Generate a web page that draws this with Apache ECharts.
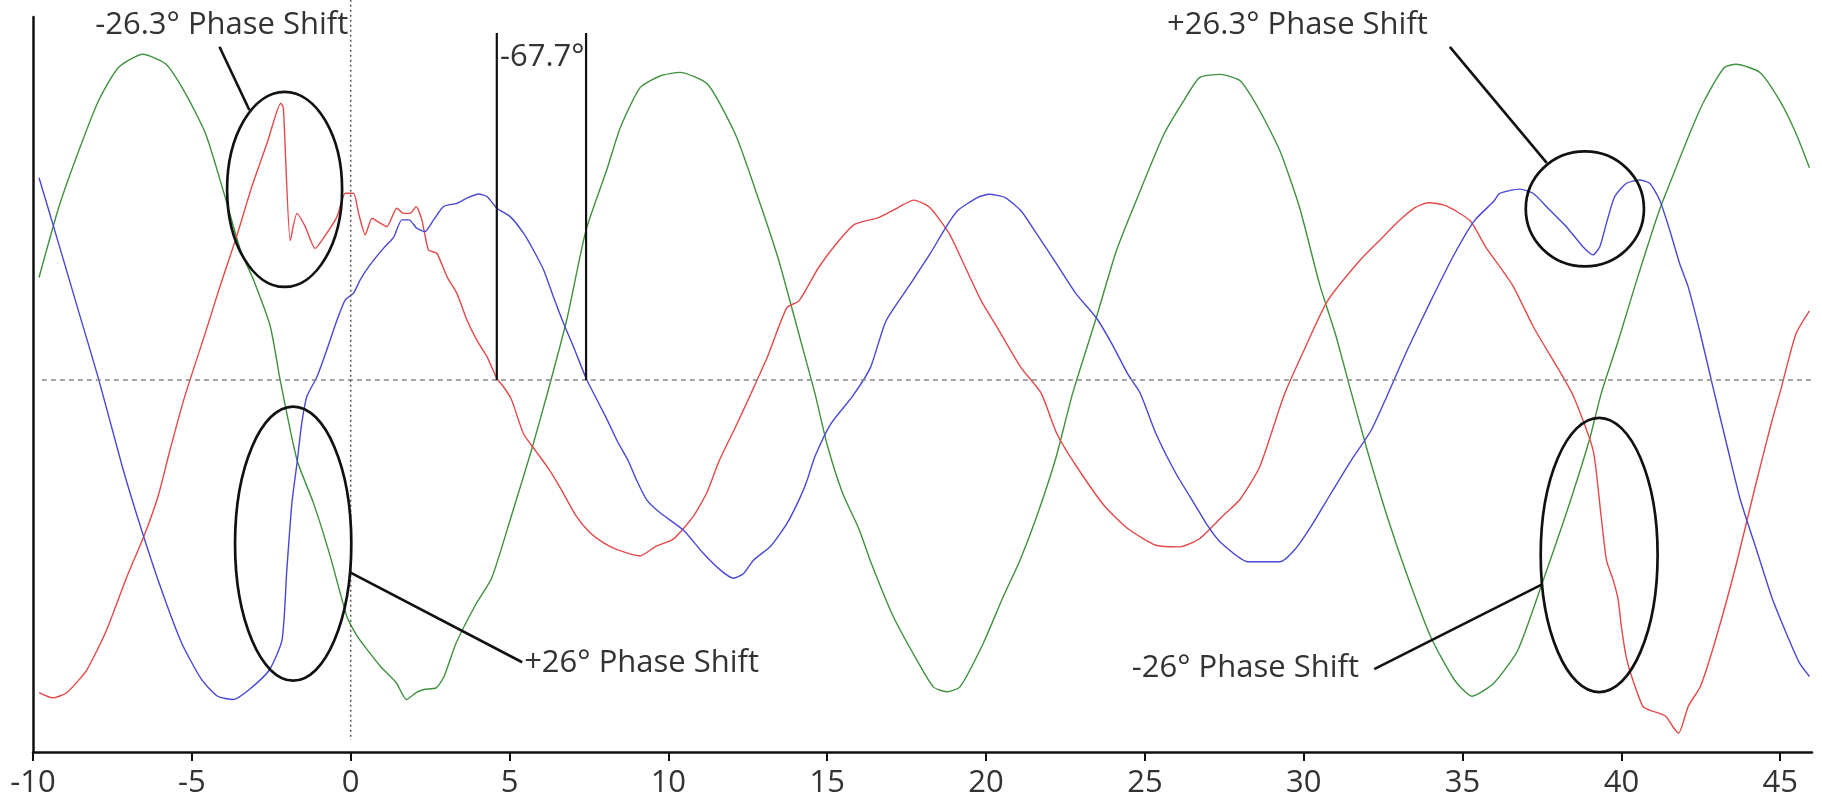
<!DOCTYPE html>
<html>
<head>
<meta charset="utf-8">
<script src="https://cdn.jsdelivr.net/npm/echarts@6/dist/echarts.min.js"></script>
<style>
html,body{margin:0;padding:0;background:#fff;}
#c{width:1822px;height:802px;}
</style>
</head>
<body>
<div id="c"></div>
<script>
// ---- tick labels ----
const xTicks = [-10, -5, 0, 5, 10, 15, 20, 25, 30, 35, 40, 45];

// ---- green waveform ----
const greenX = [-9.81,-9.19,-8.56,-7.94,-7.31,-6.54,-5.81,-5.19,-4.56,-3.94,-3.47,-3.06,-2.53,-2.22,-1.69,-1.17,-0.64,-0.12,0.2,0.5,0.94,1.44,1.75,2.06,2.31,2.69,2.94,3.31,3.94,4.44,5.06,5.69,6.22,6.8,7.41,8.06,8.49,9.11,9.74,10.36,11.23,12.11,12.86,13.48,14.11,14.61,15.0,15.48,16.0,16.35,17.08,17.82,18.34,18.76,19.18,19.91,20.54,21.07,21.6,22.2,22.73,23.47,24.1,24.72,25.6,26.22,26.72,27.37,28.0,28.62,29.25,29.87,30.5,31.0,31.5,32.0,32.62,33.25,34.0,34.74,35.3,35.99,36.74,37.49,38.24,38.99,39.37,39.9,40.42,41.2,41.7,42.2,42.6,43.24,43.61,44.36,44.99,45.5,45.92];
const greenY = [31.6,53.2,70.7,86.1,96.4,100.5,97.4,88.2,75.8,56,40.1,30.9,16.5,0,-24.7,-38,-54.5,-73,-79,-83,-88.4,-93.5,-98.6,-96.5,-95.5,-95,-91.5,-81.4,-69.2,-61.1,-41.9,-21.7,-3.1,18.5,46.3,64.8,77.9,90.2,93.8,94.9,91.3,75.8,55.2,36.7,14.1,-4,-20,-34.8,-46,-55.6,-73,-86.4,-94.7,-96.2,-94.7,-81.3,-66.9,-55.6,-42,-24,-4,19.2,39.8,55.2,75.8,86.1,93.3,94.3,92.3,83,70.7,53.2,29.5,14.1,-4,-21.7,-41.9,-60.1,-79.3,-92.5,-97.6,-93.5,-83.4,-63.2,-41.9,-18.6,-4,12,28.8,52.5,65,77.2,86,96.4,97.4,94.9,86.1,76,65.5];

// ---- red waveform ----
const redX = [-9.81,-9.38,-8.94,-8.31,-7.69,-7.06,-6.5,-6.06,-5.69,-5.22,-4.56,-4.11,-3.6,-3.1,-2.6,-2.2,-2.12,-1.9,-1.69,-1.43,-1.12,-0.75,-0.43,-0.17,0.09,0.25,0.46,0.67,0.93,1.14,1.45,1.66,1.87,2.06,2.24,2.45,2.71,3.03,3.34,3.66,3.97,4.29,4.6,4.81,5.06,5.44,5.81,6.2,6.58,7.1,7.53,7.95,8.37,9.1,9.63,10.16,10.79,11.21,11.61,12.11,12.61,13.11,13.73,14.11,14.73,15.36,15.86,16.61,17.23,17.73,18.23,18.85,19.35,19.85,20.35,21.1,21.73,22.23,22.85,23.73,24.48,25.35,26.1,26.72,27.45,28.0,28.62,29.37,30.0,30.75,31.75,32.37,33.0,33.5,33.93,34.49,35.24,35.74,36.17,36.6,37.24,37.99,38.49,39.11,39.36,39.53,39.74,39.9,40.0,40.15,40.36,40.68,40.89,41.2,41.41,41.62,41.8,42.11,42.49,42.99,43.61,44.24,44.74,44.99,45.49,45.92];
const redY = [-96.5,-98.1,-96.5,-89.5,-77.3,-61.1,-48,-35.8,-21.7,-5,15,29,44,60,74,85.4,84,43,51.4,47.3,40.6,45.3,50.4,57.6,57.6,51.4,44.8,49.9,48.4,47.3,53,51.4,51.4,53.5,49.4,40.1,39.1,31.9,26.8,18.5,12.3,7.2,0.5,-2.1,-6,-16.6,-21.7,-27,-33,-42,-47.1,-50.2,-52.3,-54.3,-51.2,-49.1,-42,-34.8,-24.7,-14.6,-4,6.9,22.3,24.4,34.7,42.9,48,50.1,53.2,55.5,53.2,45,34.7,24.4,16.2,3.8,-4,-16.6,-26.7,-38.9,-46,-51,-51.5,-49,-42,-36.8,-26.7,-5,9,24.4,36.7,42.9,49.1,53.2,54.7,53.7,49.1,40.8,35,28.8,16.2,3.8,-5,-21.7,-41.9,-55.6,-61.7,-67.9,-76.1,-85.4,-92.6,-100.8,-101.9,-102.9,-103.9,-107,-109,-100.6,-94.5,-79.3,-57.1,-31.8,-12.6,-4,14.1,21.3];

// ---- blue waveform ----
const blueX = [-9.81,-9.19,-8.56,-7.94,-7.19,-6.56,-5.94,-5.31,-4.69,-4.19,-3.69,-3.19,-2.56,-2.16,-2.01,-1.85,-1.69,-1.54,-1.38,-1.06,-0.75,-0.43,-0.17,0.09,0.3,0.61,1.03,1.35,1.61,1.84,2.08,2.34,2.61,2.92,3.34,3.66,4.02,4.29,4.6,5.02,5.44,5.75,6.07,6.38,6.7,7.01,7.41,7.54,8.06,8.4,8.74,9.0,9.32,9.74,10.47,11.1,11.63,12.05,12.37,12.68,13.21,13.74,14.16,14.37,14.61,15.11,15.8,16.36,16.85,17.61,18.23,18.73,19.1,19.73,20.1,20.6,21.1,21.6,22.23,22.85,23.47,23.97,24.47,24.85,25.35,25.97,26.6,26.97,27.37,28.25,29.25,29.75,30.25,30.87,31.5,32.12,32.62,33.25,34.0,34.74,35.37,35.99,36.17,36.8,37.22,37.74,38.27,38.79,39.11,39.32,39.53,39.79,40.16,40.57,40.89,41.2,41.52,41.83,42.1,42.49,42.86,43.36,43.74,44.24,44.74,45.24,45.61,45.92];
const blueY = [62.4,42,21,0.5,-26.7,-47,-65.2,-81.4,-92.5,-97.6,-98.6,-95.5,-89.5,-80.2,-58.6,-38,-25.7,-13.4,-5.1,1,9.3,18.5,24.7,26.8,30.9,35.5,40.6,44,49.4,49.4,46.8,45.8,49.4,53.5,54.5,56.1,57.4,56.6,53,50.4,45.3,40.1,34,25.7,17.5,10.3,0.5,-2.1,-12,-19,-25,-30.9,-37,-41,-46.3,-53.5,-58.6,-61.2,-59.7,-55.6,-51.4,-44.2,-36,-30.9,-23.7,-13.6,-5,3.8,18.2,29.5,38.8,47,52.2,56.3,57.3,56.3,52.2,45,35.7,26.4,19.2,11,1.7,-4,-16.6,-28.7,-38.9,-44.9,-50,-56.1,-56.1,-52,-44.9,-34.8,-24.7,-15.6,-5,9,24.4,38.8,49.1,55.2,57.6,58.9,57.6,52.5,47.3,41.1,38.6,41.1,48.4,56.6,60.7,61.7,60.7,55.6,46.3,36,28.8,14.1,-1.3,-21.7,-36.8,-52,-67.2,-79.3,-87.4,-91.5];

// ---- annotation texts ----
const annotationTexts = ['-26.3\u00B0 Phase Shift', '-67.7\u00B0', '+26.3\u00B0 Phase Shift', '+26\u00B0 Phase Shift', '-26\u00B0 Phase Shift'];

const FONT = '"Open Sans", "Noto Sans", sans-serif';
const chart = echarts.init(document.getElementById('c'), null, {renderer: 'canvas'});
const pairs = (xs, ys) => xs.map((x, i) => [x, ys[i]]);
const lineSeries = (name, xs, ys, color) => ({
  name, type: 'line', data: pairs(xs, ys), showSymbol: false, symbol: 'none',
  smooth: 0.2, clip: false,
  lineStyle: {color, width: 1.4}, z: 3
});

chart.setOption({
  animation: false,
  backgroundColor: '#fff',
  grid: {left: 33, right: 10, top: 17, bottom: 50, containLabel: false},
  xAxis: {
    type: 'value', min: -10, max: 46, interval: 5,
    axisLine: {show: true, onZero: false, lineStyle: {color: '#111', width: 2.5}},
    axisTick: {show: true, inside: false, length: 9, customValues: xTicks, lineStyle: {color: '#111', width: 2}},
    axisLabel: {show: true, customValues: xTicks, fontSize: 31, fontFamily: FONT, color: '#333', margin: 16},
    splitLine: {show: false}
  },
  yAxis: {
    type: 'value', min: -114.8, max: 112,
    axisLine: {show: true, onZero: false, lineStyle: {color: '#111', width: 2.5}},
    axisTick: {show: false}, axisLabel: {show: false}, splitLine: {show: false}
  },
  series: [
    lineSeries('green', greenX, greenY, '#3f913f'),
    lineSeries('red', redX, redY, '#e24a4a'),
    lineSeries('blue', blueX, blueY, '#4848d4')
  ]
});

// ---- annotations anchored in data coordinates ----
const P = (x, y) => chart.convertToPixel({gridIndex: 0}, [x, y]);
const INK = '#111';
const TXT = '#333';
const ell = (cx, cy, rx, ry) => {
  const c = P(cx, cy), e = P(cx + rx, cy + ry);
  return {type: 'ellipse', z: 10, shape: {cx: c[0], cy: c[1], rx: Math.abs(e[0] - c[0]), ry: Math.abs(c[1] - e[1])},
          style: {fill: null, stroke: INK, lineWidth: 2.7}};
};
const seg = (x1, y1, x2, y2, style) => {
  const a = P(x1, y1), b = P(x2, y2);
  return {type: 'line', z: 9, shape: {x1: a[0], y1: a[1], x2: b[0], y2: b[1]}, style: Object.assign({stroke: INK, lineWidth: 2.6}, style || {})};
};
const txt = (x, y, s) => {
  const a = P(x, y);
  return {type: 'text', z: 11, x: a[0], y: a[1],
          style: {text: s, fontSize: 31, fontFamily: FONT, fill: TXT, align: 'left', verticalAlign: 'middle'}};
};

chart.setOption({
  graphic: [
    // reference lines
    seg(-9.72, 0, 46, 0, {stroke: '#888', lineWidth: 1.5, lineDash: [5, 4]}),
    seg(0, 117.3, 0, -111.1, {stroke: '#555', lineWidth: 1.5, lineDash: [2, 3]}),
    seg(4.6, 0, 4.6, 107.1, {lineWidth: 2.2}),
    seg(7.41, 0, 7.41, 107.1, {lineWidth: 2.2}),
    // ellipses
    ell(-2.08, 58.8, 1.81, 30.1),
    ell(-1.81, -50.5, 1.83, 42.3),
    ell(39.30, -54.0, 1.84, 42.3),
    ell(38.85, 52.8, 1.86, 17.75),
    // leader lines
    seg(-4.13, 102.8, -3.19, 83.3),
    seg(-0.02, -59.4, 5.40, -87.1),
    seg(32.22, -89.2, 37.52, -63.0),
    seg(34.60, 102.8, 37.65, 67.0),
    // labels
    txt(-8.04, 109.4, annotationTexts[0]),
    txt(4.70, 99.5, annotationTexts[1]),
    txt(25.70, 109.4, annotationTexts[2]),
    txt(5.46, -87.5, annotationTexts[3]),
    txt(24.59, -88.8, annotationTexts[4])
  ]
});
</script>
</body>
</html>
